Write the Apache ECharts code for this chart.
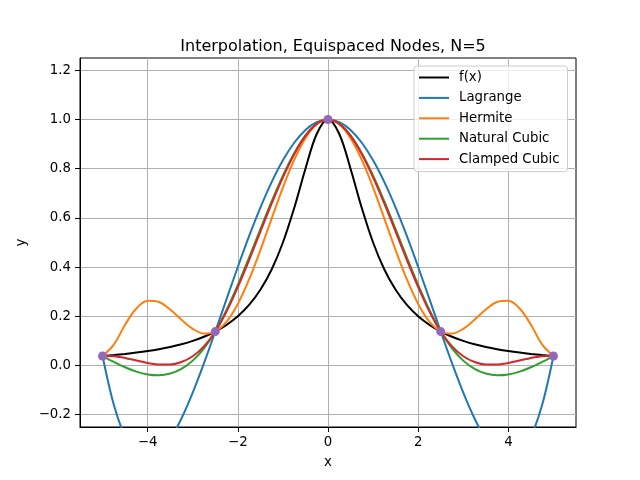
<!DOCTYPE html>
<html>
<head>
<meta charset="utf-8">
<script src="https://cdn.jsdelivr.net/npm/echarts@6/dist/echarts.min.js"></script>
<style>html,body{margin:0;padding:0;background:#fff}#c{width:640px;height:480px}</style>
</head>
<body>
<div id="c"></div>
<script>
const xs = [-5,-4.75,-4.5,-4.25,-4,-3.75,-3.5,-3.25,-3,-2.75,-2.5,-2.25,-2,-1.75,-1.5,-1.25,-1,-0.75,-0.5,-0.25,0,0.25,0.5,0.75,1,1.25,1.5,1.75,2,2.25,2.5,2.75,3,3.25,3.5,3.75,4,4.25,4.5,4.75,5];
const fx = [0.0385,0.0424,0.0471,0.0525,0.0588,0.0664,0.0755,0.0865,0.1,0.1168,0.1379,0.1649,0.2,0.2462,0.3077,0.3902,0.5,0.64,0.8,0.9412,1,0.9412,0.8,0.64,0.5,0.3902,0.3077,0.2462,0.2,0.1649,0.1379,0.1168,0.1,0.0865,0.0755,0.0664,0.0588,0.0525,0.0471,0.0424,0.0385];
const lagrange = [0.0385,-0.1596,-0.2892,-0.3595,-0.3793,-0.3568,-0.2998,-0.2153,-0.1101,0.0096,0.1379,0.2698,0.4005,0.5258,0.6419,0.7456,0.8342,0.9054,0.9576,0.9893,1,0.9893,0.9576,0.9054,0.8342,0.7456,0.6419,0.5258,0.4005,0.2698,0.1379,0.0096,-0.1101,-0.2153,-0.2998,-0.3568,-0.3793,-0.3595,-0.2892,-0.1596,0.0385];
const hermite = [0.0385,0.0851,0.1657,0.2315,0.2628,0.2582,0.2277,0.1862,0.1490,0.1298,0.1379,0.1781,0.2503,0.3499,0.4690,0.5974,0.7234,0.8357,0.9241,0.9806,1,0.9806,0.9241,0.8357,0.7234,0.5974,0.4690,0.3499,0.2503,0.1781,0.1379,0.1298,0.1490,0.1862,0.2277,0.2582,0.2628,0.2315,0.1657,0.0851,0.0385];
const natural = [0.0385,0.0147,-0.0071,-0.0248,-0.0363,-0.0397,-0.0328,-0.0137,0.0198,0.0697,0.1379,0.2254,0.3276,0.4390,0.5539,0.6667,0.7716,0.8630,0.9354,0.9829,1,0.9829,0.9354,0.8630,0.7716,0.6667,0.5539,0.4390,0.3276,0.2254,0.1379,0.0697,0.0198,-0.0137,-0.0328,-0.0397,-0.0363,-0.0248,-0.0071,0.0147,0.0385];
const clamped = [0.0385,0.0378,0.0308,0.0205,0.0105,0.0038,0.0040,0.0141,0.0377,0.0778,0.1379,0.2197,0.3187,0.4288,0.5439,0.6580,0.7649,0.8586,0.9331,0.9823,1,0.9823,0.9331,0.8586,0.7649,0.6580,0.5439,0.4288,0.3187,0.2197,0.1379,0.0778,0.0377,0.0141,0.0040,0.0038,0.0105,0.0205,0.0308,0.0378,0.0385];
const nodeX = [-5,-2.5,0,2.5,5];
const nodeY = [0.0385,0.1379,1,0.1379,0.0385];
const xTicks = [-4,-2,0,2,4];
const yTicks = [-0.2,0,0.2,0.4,0.6,0.8,1.0,1.2];
const seriesNames = ['f(x)','Lagrange','Hermite','Natural Cubic','Clamped Cubic'];
const seriesColors = ['#000000','#1f77b4','#ff7f0e','#2ca02c','#d62728'];
const seriesValues = [fx, lagrange, hermite, natural, clamped];

const FONT = 'DejaVu Sans';
const pair = (a, b) => a.map((v, i) => [v, b[i]]);
const minus = s => s.replace('-', '\u2212');

const chart = echarts.init(document.getElementById('c'), null, {renderer: 'canvas'});
const lineSeries = seriesNames.map((n, i) => ({
  name: n, type: 'line', data: pair(xs, seriesValues[i]),
  smooth: 0.35, symbol: 'none', showSymbol: false, clip: true,
  lineStyle: {color: seriesColors[i], width: 2}, itemStyle: {color: seriesColors[i]},
  z: 2 + i
}));
const axisCommon = {
  axisLine: {onZero: false, lineStyle: {color: '#000', width: 1}},
  axisTick: {show: true, length: 5, lineStyle: {color: '#000', width: 1}},
  splitLine: {show: true, lineStyle: {color: '#b0b0b0', width: 1}},
  nameTextStyle: {fontFamily: FONT, fontSize: 13.3, color: '#000'}
};
chart.setOption({
  animation: false,
  backgroundColor: '#fff',
  title: {text: 'Interpolation, Equispaced Nodes, N=5', left: 328, top: 34, textAlign: 'center',
    textStyle: {fontFamily: FONT, fontSize: 16, fontWeight: 'normal', color: '#000'}},
  grid: {left: 80, right: 64, top: 58, bottom: 53, show: true, borderColor: '#000', borderWidth: 1, backgroundColor: 'transparent'},
  legend: {
    data: seriesNames, orient: 'vertical', left: 414, top: 66,
    padding: [5, 8, 6, 4], itemGap: 7.4, itemWidth: 30, itemHeight: 14,
    itemStyle: {opacity: 0},
    lineStyle: {width: 2},
    backgroundColor: 'rgba(255,255,255,0.8)', borderColor: '#cccccc', borderWidth: 1, borderRadius: 3,
    textStyle: {fontFamily: FONT, fontSize: 13.3, color: '#000', padding: [0, 0, 0, 5]}
  },
  xAxis: Object.assign({}, axisCommon, {
    type: 'value', min: -5.5, max: 5.5, name: 'x', nameLocation: 'middle', nameGap: 29,
    axisTick: Object.assign({}, axisCommon.axisTick, {customValues: xTicks}),
    axisLabel: {customValues: xTicks, margin: 9, fontFamily: FONT, fontSize: 13.3, color: '#000',
      formatter: v => minus(String(v))}
  }),
  yAxis: Object.assign({}, axisCommon, {
    type: 'value', min: -0.25, max: 1.25, name: 'y', nameLocation: 'middle', nameGap: 52,
    axisTick: Object.assign({}, axisCommon.axisTick, {customValues: yTicks}),
    axisLabel: {customValues: yTicks, margin: 9, fontFamily: FONT, fontSize: 13.3, color: '#000',
      formatter: v => minus(v.toFixed(1))}
  }),
  series: lineSeries.concat([{
    name: 'nodes', type: 'scatter', data: pair(nodeX, nodeY), symbol: 'circle', symbolSize: 9,
    itemStyle: {color: '#9467bd', opacity: 1}, z: 10
  }])
});
</script>
</body>
</html>
